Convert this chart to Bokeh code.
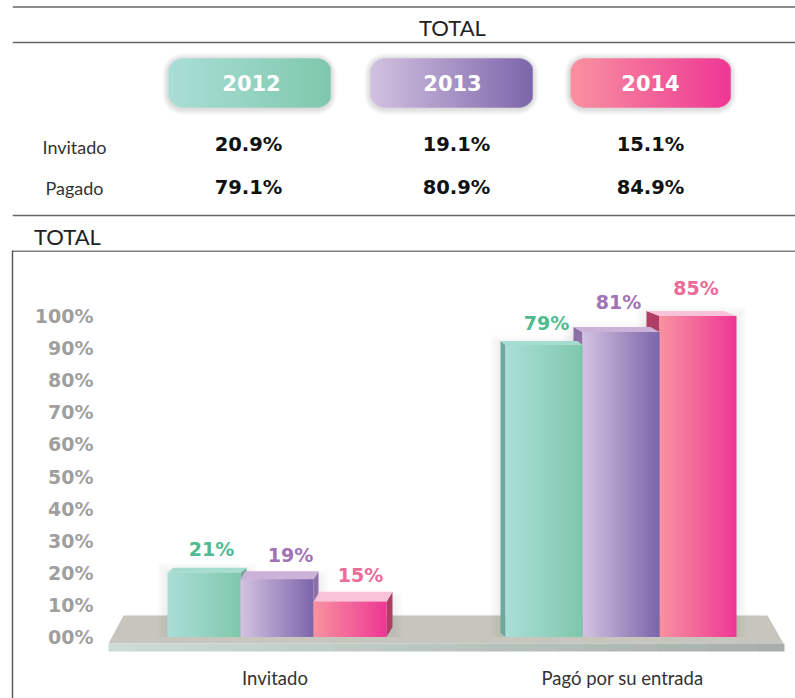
import numpy as np
from bokeh.plotting import figure
from bokeh.layouts import column
from bokeh.models import Range1d, FixedTicker
from bokeh.core.properties import value
from bokeh.embed import file_html
from bokeh.resources import INLINE

# ---- data ----
years = ["2012", "2013", "2014"]
rows = ["Invitado", "Pagado"]
table_2012 = ["20.9%", "79.1%"]
table_2013 = ["19.1%", "80.9%"]
table_2014 = ["15.1%", "84.9%"]
categories = ["Invitado", "Pagó por su entrada"]
# bar heights as read against the printed axis
heights_2012 = [20, 91]
heights_2013 = [18, 95]
heights_2014 = [11, 100]
labels_2012 = ["21%", "79%"]
labels_2013 = ["19%", "81%"]
labels_2014 = ["15%", "85%"]
tick_values = [0, 10, 20, 30, 40, 50, 60, 70, 80, 90, 100]
tick_labels = ["00%", "10%", "20%", "30%", "40%", "50%", "60%", "70%", "80%", "90%", "100%"]

# ---- style ----
FONT = "Lato"
BOLD = "DejaVu Sans"
GRAD = [("#a9ded7", "#7fc8ac"), ("#d2c1e0", "#7d66ab"), ("#f8919f", "#ee3894")]
TOPC = ["#a5dccf", "#cbb2d8", "#f9c2d8"]
SIDEC = ["#6da99c", "#8e6fa6", "#b03d63"]
LABC = ["#4fbb90", "#a272b6", "#ec6b99"]
GROUP_X = [276.5, 620.5]
BAR_W = [73.0, 77.0]
DEPTH = [[(6, 5), (5, 8), (6, 10)], [(-5, 4), (-9, 5), (-13, 5)]]
LABEL_DX = [[7.5, 13.5, 10.5], [2.5, -2.5, -2]]
LABEL_DY = [[-4, -1, -2], [-3, -10, -8]]
PX = 3.21
Y0 = 636.5


def hex2rgb(h):
    return np.array([int(h[i:i + 2], 16) for i in (1, 3, 5)], float)


def mix(a, b, t):
    c = hex2rgb(a) * (1 - t) + hex2rgb(b) * t
    return "#%02x%02x%02x" % tuple(int(round(v)) for v in c)


def rounded(x0, y0, x1, y1, r):
    xs, ys = [], []
    for cx, cy, a0 in ((x1 - r, y0 + r, -90), (x1 - r, y1 - r, 0), (x0 + r, y1 - r, 90), (x0 + r, y0 + r, 180)):
        for a in np.radians(np.arange(a0, a0 + 91, 15)):
            xs.append(cx + r * np.cos(a))
            ys.append(cy + r * np.sin(a))
    return xs, ys


# ---- header figure (page pixel coordinates; its frame aligns with the chart's frame) ----
top = figure(width=795, height=250, x_range=Range1d(12, 795), y_range=Range1d(250, 0),
             x_axis_location=None, y_axis_location=None, toolbar_location=None,
             output_backend="svg", min_border=0, outline_line_color=None)
top.grid.visible = False

for yy in (6.5, 42, 215):
    top.line([12, 795], [yy, yy], line_color="#666666", line_width=1.4)

PILLS = [(168, 330), (370, 532), (570, 730)]
PILL_Y = (58, 107)
HEAD_X = [251, 452, 650]
VAL_X = [248, 456, 650]
ROW_Y = [146, 187]

for (x0, x1), (c0, c1) in zip(PILLS, GRAD):
    y0, y1 = PILL_Y
    for g in range(6, 0, -1):
        xs, ys = rounded(x0 - g, y0 - g + 1, x1 + g, y1 + g + 1, 14 + g)
        top.patch(xs, ys, fill_color="#777777", fill_alpha=0.045, line_color=None)
    r = 14.0
    lefts, rights, tops, bots, cols = [], [], [], [], []
    for e in np.arange(x0, x1, 1.0):
        mid = e + 0.5
        d = max(x0 + r - mid, mid - (x1 - r), 0)
        inset = r - np.sqrt(max(r * r - d * d, 0))
        lefts.append(e)
        rights.append(min(e + 2, x1))
        tops.append(y0 + inset)
        bots.append(y1 - inset)
        cols.append(mix(c0, c1, (mid - x0) / (x1 - x0)))
    top.quad(left=lefts, right=rights, top=tops, bottom=bots, fill_color=cols, line_color=None)

top.text(x=[452], y=[27], text=["TOTAL"], text_font=value(FONT), text_font_size="22px",
         text_color="#222222", text_align="center", text_baseline="middle")
top.text(x=[67], y=[236], text=["TOTAL"], text_font=value(FONT), text_font_size="22px",
         text_color="#222222", text_align="center", text_baseline="middle")
top.text(x=HEAD_X, y=[82] * 3, text=years, text_font=value(BOLD), text_font_size="21px",
         text_font_style="bold", text_color="#ffffff", text_align="center", text_baseline="middle")
top.text(x=[74, 74], y=ROW_Y, text=rows, text_font=value(FONT), text_font_size="18px",
         text_color="#333333", text_align="center", text_baseline="middle")
for x, vals in zip(VAL_X, (table_2012, table_2013, table_2014)):
    top.text(x=[x, x], y=[144, 187], text=vals, text_font=value(BOLD), text_font_size="19.5px",
             text_font_style="bold", text_color="#111111", text_align="center", text_baseline="middle")

# ---- chart figure ----
p = figure(width=795, height=448, x_range=Range1d(12, 795),
           y_range=Range1d((Y0 - 698) / PX, (Y0 - 250) / PX),
           toolbar_location=None, output_backend="svg",
           min_border_left=12, min_border_right=0, min_border_top=0, min_border_bottom=0,
           outline_line_color=None)
p.grid.visible = False


def vy(py):
    return (Y0 - py) / PX


# top rule of the box
p.line([12, 795], [vy(250.5), vy(250.5)], line_color="#555555", line_width=1.4)

# shelf
p.patch([123, 767, 783, 108], [vy(615), vy(615), vy(643), vy(643)], fill_color="#c6c6bc", line_color=None)
fx = np.linspace(108, 783, 28).round()
p.quad(left=fx[:-1], right=fx[1:] + 1, top=[vy(643)] * 27, bottom=[vy(651)] * 27,
       fill_color=[mix("#cddad5", "#a6afab", i / 26) for i in range(27)], line_color=None)

STRIPS = 36
heights = [heights_2012, heights_2013, heights_2014]
labels = [labels_2012, labels_2013, labels_2014]

for g, gx in enumerate(GROUP_X):
    w = BAR_W[g]
    left_edge = gx - 1.5 * w
    order = range(3) if g == 0 else range(2, -1, -1)
    for s in order:
        h = heights[s][g]
        x0 = left_edge + s * w
        x1 = x0 + w
        dx, dy = DEPTH[g][s]
        for k in range(5, 0, -1):
            p.quad(left=[x0 - 2 * k + (dx if dx < 0 else 0)], right=[x1 + 2 * k + (dx if dx > 0 else 0)],
                   top=[h + k * 0.6], bottom=[0],
                   fill_color="#888888", fill_alpha=0.025, line_color=None)
    for s in order:
        h = heights[s][g]
        x0 = left_edge + s * w
        x1 = x0 + w
        dx, dy = DEPTH[g][s]
        dv = dy / PX
        # side face
        if dx > 0:
            p.patch([x1, x1 + dx, x1 + dx, x1], [0, dv, h + dv, h], fill_color=SIDEC[s], line_color=None)
        else:
            p.patch([x0, x0 + dx, x0 + dx, x0], [0, dv, h + dv, h], fill_color=SIDEC[s], line_color=None)
        p.patch([x0, x1, x1 + dx, x0 + dx], [h, h, h + dv, h + dv], fill_color=TOPC[s], line_color=None)
        # front face: crisp whole-pixel strips, each overdrawn by the next
        edges = np.linspace(x0, x1, STRIPS + 1).round()
        rights_ = edges[1:].copy()
        rights_[:-1] += 1
        p.quad(left=edges[:-1], right=rights_, top=[h] * STRIPS, bottom=[0] * STRIPS,
               fill_color=[mix(GRAD[s][0], GRAD[s][1], i / (STRIPS - 1)) for i in range(STRIPS)], line_color=None)

# value labels
for s in range(3):
    lx = [GROUP_X[g] + (s - 1) * BAR_W[g] + LABEL_DX[g][s] for g in range(2)]
    ly = [heights[s][g] + (DEPTH[g][s][1] - LABEL_DY[g][s]) / PX + 4.6 for g in range(2)]
    p.text(x=lx, y=ly, text=labels[s], text_font=value(BOLD), text_font_size="19px", text_font_style="bold",
           text_color=LABC[s], text_align="center", text_baseline="middle")

# axes
ya = p.yaxis[0]
ya.ticker = FixedTicker(ticks=tick_values)
ya.major_label_overrides = {v: t for v, t in zip(tick_values, tick_labels)}
ya.major_label_text_font = BOLD
ya.major_label_text_font_size = "19px"
ya.major_label_text_font_style = "bold"
ya.major_label_text_color = "#9f9f9f"
ya.major_tick_line_color = None
ya.minor_tick_line_color = None
ya.axis_line_color = "#555555"
ya.axis_line_width = 1.4
ya.major_label_standoff = -87

xa = p.xaxis[0]
xa.ticker = FixedTicker(ticks=[274.5, 622.0])
xa.major_label_overrides = {274.5: categories[0], 622.0: categories[1]}
xa.major_label_text_font = FONT
xa.major_label_text_font_size = "18.5px"
xa.major_label_text_color = "#333333"
xa.major_tick_line_color = None
xa.minor_tick_line_color = None
xa.axis_line_color = None
xa.major_label_standoff = -38

layout = column(top, p, spacing=0)
open("out.html", "w").write(file_html(layout, INLINE))
